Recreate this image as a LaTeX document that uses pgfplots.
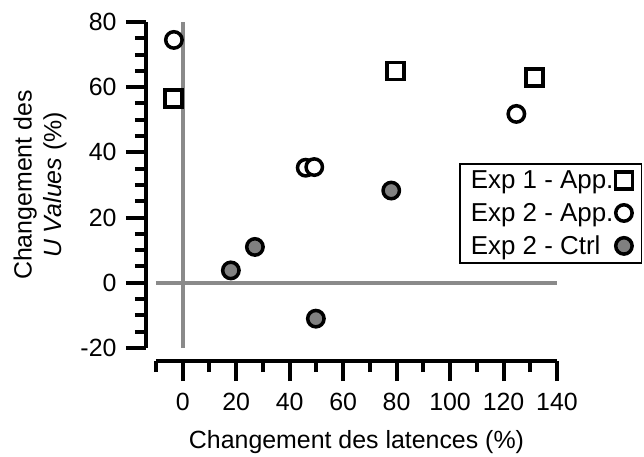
\documentclass[border=0pt]{standalone}
\usepackage{fontspec}
\setmainfont{Liberation Sans}
\usepackage{pgfplots}
\pgfplotsset{compat=1.18}
\definecolor{refgray}{HTML}{8A8A8A}
\definecolor{markgray}{HTML}{808080}
\newcommand{\lf}{\fontsize{26}{30}\selectfont}
\begin{document}
\begin{tikzpicture}
\begin{axis}[
 at={(0,0)}, anchor=south west,
 scale only axis, width=401bp, height=326bp,
 xmin=-10, xmax=140, ymin=-20, ymax=80,
 axis lines=left, axis line style={-, line width=4.5bp},
 axis x line shift=13bp, axis y line shift=10bp,
 xtick={0,20,...,140}, ytick={-20,0,...,80},
 minor xtick={-10,10,30,50,70,90,110,130},
 minor ytick={-15,-10,-5,5,10,15,25,30,35,45,50,55,65,70,75},
 tick align=outside, major tick length=20bp, minor tick length=11bp,
 every tick/.style={black, line width=4bp},
 /pgf/number format/assume math mode=true,
 ticklabel style={font=\fontsize{25}{30}\selectfont},
 xticklabel style={yshift=-9bp},
 yticklabel style={xshift=-6bp},
 label style={font=\fontsize{25}{30}\selectfont},
 xlabel={Changement des latences (\%)},
 xlabel style={yshift=-12bp},
 ylabel={Changement des\\\textit{U Values} (\%)},
 ylabel style={align=center, yshift=7bp},
 legend plot pos=right,
 legend style={at={(0.756,0.567)}, anchor=north west,
   font=\lf,
   draw=black, line width=1.5bp, inner xsep=9bp, inner ysep=5bp,
   column sep=0bp, row sep=9bp},
 legend cell align=left,
]
\addplot[refgray, line width=4bp, forget plot] coordinates {(0,-20) (0,80)};
\addplot[refgray, line width=4bp, forget plot] coordinates {(-10,0) (140,0)};
\addplot[only marks, mark=square*, mark size=8.5bp, mark options={line width=3.5bp, draw=black, fill=white}] coordinates {(-3.5,56.5) (79.5,65) (131.5,63)};
\addlegendentry{Exp 1 - App.}
\addplot[only marks, mark=*, mark size=8.2bp, mark options={line width=3.5bp, draw=black, fill=white}] coordinates {(-3.3,74.5) (46,35.3) (49.2,35.5) (124.8,51.8)};
\addlegendentry{Exp 2 - App.}
\addplot[only marks, mark=*, mark size=8.2bp, mark options={line width=3.5bp, draw=black, fill=markgray}] coordinates {(18,3.8) (27,11) (49.8,-11) (78,28.3)};
\addlegendentry{Exp 2 - Ctrl}
\end{axis}
\pgfresetboundingbox
\path[use as bounding box] (-156bp,-109bp) rectangle (488bp,348bp);
\end{tikzpicture}
\end{document}
